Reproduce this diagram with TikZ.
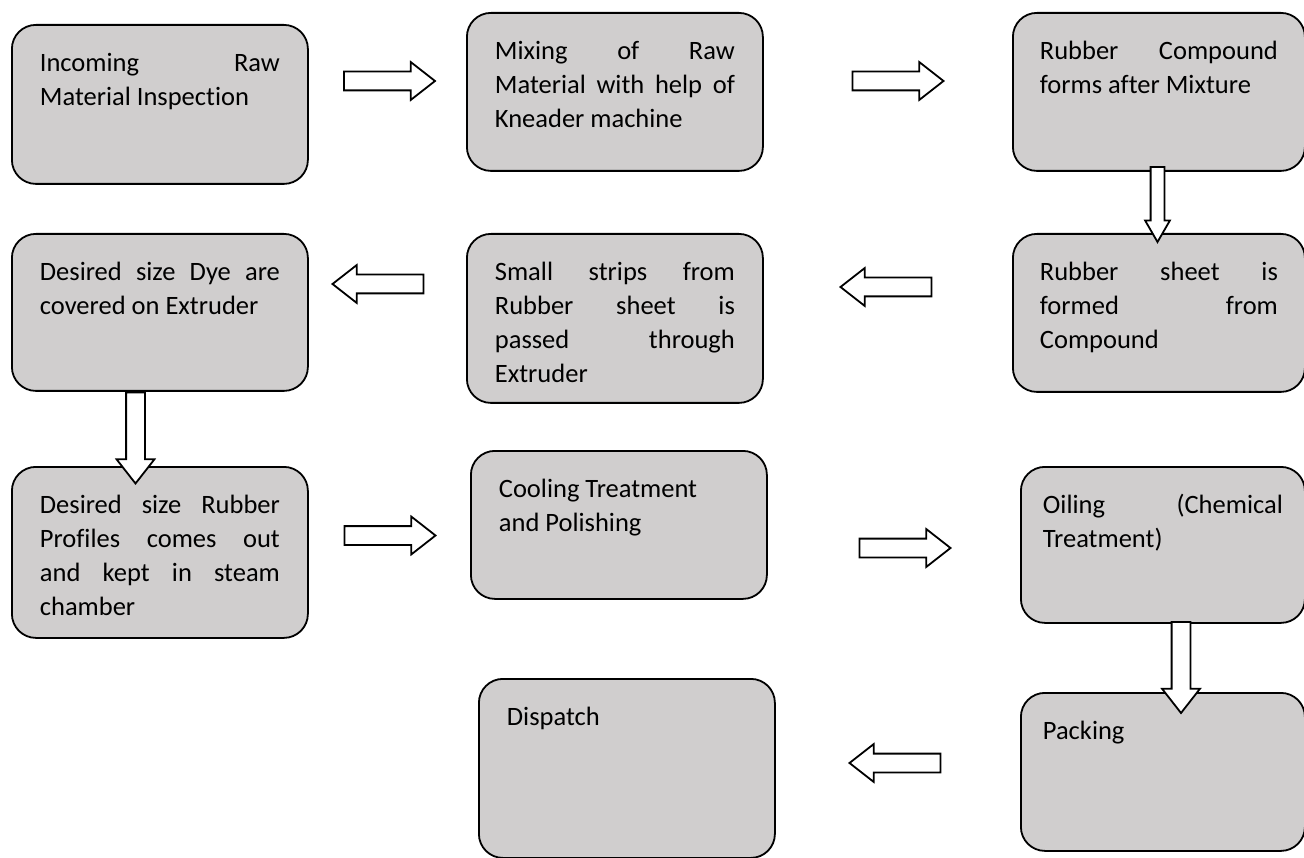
\documentclass[tikz,border=0pt]{standalone}
\usepackage{fontspec}
\setmainfont[Ligatures=NoCommon]{Carlito}
\usetikzlibrary{shapes.arrows}
\definecolor{boxgray}{HTML}{D0CECE}
\hbadness=10000
\newcommand{\steptext}[3][240pt]{\parbox[c][#2][t]{#1}{\fontsize{26.5}{34}\selectfont\rule{0pt}{47pt}#3}}

\begin{document}
\begin{tikzpicture}[x=1pt, y=-1pt,
  stepbox/.style={draw, line width=1.8pt, fill=boxgray, rounded corners=24pt, anchor=north west, inner xsep=28pt, inner ysep=0pt},
  blockarr/.style={draw, line width=1.8pt, fill=white, single arrow, single arrow head indent=0pt, inner sep=0pt},
  bigarr/.style={blockarr, minimum height=91pt, inner ysep=8.5pt, single arrow head extend=9.5pt, single arrow tip angle=76},
  thinarr/.style={blockarr, minimum height=75pt, inner ysep=6pt, single arrow head extend=5.5pt, single arrow tip angle=60},
]
  \useasboundingbox (0,0) rectangle (1304,858);

  % Row 1
  \node[stepbox] (inspect) at (11,24) {\steptext{159pt}{Incoming Raw\linebreak Material Inspection}};
  \node[stepbox] (mixing) at (466,12) {\steptext{158pt}{Mixing of Raw\linebreak Material with help of\linebreak Kneader machine}};
  \node[stepbox, inner xsep=27pt] (compound) at (1012,12) {\steptext[238pt]{158pt}{Rubber Compound\linebreak forms after Mixture}};

  % Row 2
  \node[stepbox] (dye) at (11,233) {\steptext{157pt}{Desired size Dye are\linebreak covered on Extruder}};
  \node[stepbox] (strips) at (466,233) {\steptext{169pt}{Small strips from\linebreak Rubber sheet is\linebreak passed through\linebreak Extruder}};
  \node[stepbox, inner xsep=27pt] (sheet) at (1012,233) {\steptext[238pt]{158pt}{Rubber sheet is\linebreak formed from\linebreak Compound}};

  % Row 3
  \node[stepbox] (profiles) at (11,466) {\steptext{171pt}{Desired size Rubber\linebreak Profiles comes out\linebreak and kept in steam\linebreak chamber}};
  \node[stepbox] (cooling) at (470,450) {\steptext{148pt}{Cooling Treatment\newline and Polishing}};
  \node[stepbox, inner xsep=22pt] (oiling) at (1020,466) {\steptext[240pt]{156pt}{Oiling (Chemical\linebreak Treatment)}};

  % Row 4
  \node[stepbox] (dispatch) at (478,678) {\steptext{179pt}{Dispatch}};
  \node[stepbox, inner xsep=22pt] (packing) at (1020,692) {\steptext[240pt]{158pt}{Packing}};

  % Block arrows
  \node[bigarr] (a1) at (383.5,81) {};
  \node[bigarr] (a2) at (892,81) {};
  \node[thinarr, rotate=-90] (d1) at (1157.5,198.5) {};
  \node[bigarr, rotate=180] (a3) at (384,284) {};
  \node[bigarr, rotate=180] (a4) at (892,287) {};
  \node[bigarr, rotate=-90] (d2) at (135.5,432) {};
  \node[bigarr] (a5) at (384,535.5) {};
  \node[bigarr] (a6) at (899,548) {};
  \node[bigarr, rotate=-90] (d3) at (1181,661.5) {};
  \node[bigarr, rotate=180] (a7) at (901,763) {};
\end{tikzpicture}
\end{document}
